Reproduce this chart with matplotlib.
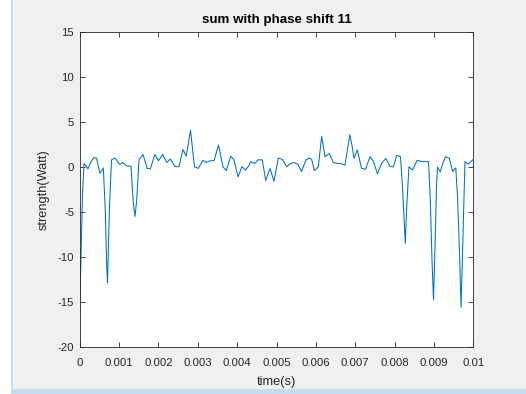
import matplotlib
matplotlib.use("Agg")
import matplotlib.pyplot as plt
from matplotlib.patches import Rectangle
from matplotlib.ticker import FixedLocator, FixedFormatter

plt.rcParams['font.family'] = ['Liberation Sans', 'DejaVu Sans']

# summed signal: time in milliseconds, strength in watts
time_ms = [0.000, 0.071, 0.109, 0.211, 0.287, 0.363, 0.427, 0.516, 0.600, 0.650,
           0.686, 0.706, 0.757, 0.808, 0.897, 1.011, 1.100, 1.202, 1.303, 1.362,
           1.405, 1.448, 1.507, 1.608, 1.715, 1.794, 1.908, 2.002, 2.109, 2.213,
           2.299, 2.421, 2.523, 2.624, 2.706, 2.815, 2.917, 3.011, 3.133, 3.222,
           3.310, 3.412, 3.526, 3.641, 3.725, 3.836, 3.920, 4.022, 4.123, 4.212,
           4.289, 4.345, 4.446, 4.530, 4.639, 4.726, 4.835, 4.936, 5.046, 5.147,
           5.259, 5.361, 5.445, 5.546, 5.635, 5.750, 5.833, 5.894, 5.961, 6.062,
           6.148, 6.232, 6.341, 6.443, 6.545, 6.631, 6.740, 6.862, 6.918, 6.969,
           7.053, 7.160, 7.261, 7.376, 7.459, 7.566, 7.668, 7.777, 7.879, 7.967,
           8.054, 8.150, 8.201, 8.247, 8.272, 8.308, 8.366, 8.455, 8.575, 8.697,
           8.862, 8.905, 8.951, 8.989, 9.027, 9.065, 9.090, 9.161, 9.223, 9.294,
           9.388, 9.477, 9.555, 9.599, 9.650, 9.688, 9.721, 9.764, 9.789, 9.873,
           9.962, 10.000]
strength = [-16.0, -3.0, 0.4, -0.2, 0.6, 1.05, 1.0, -0.7, -0.1, -4.8,
            -11.0, -12.9, -4.4, 0.8, 1.0, 0.3, 0.5, 0.1, 0.1, -4.0,
            -5.5, -3.7, 0.8, 1.4, -0.15, -0.2, 1.4, 0.7, 1.4, 0.5,
            0.9, 0.05, 0.05, 1.95, 1.2, 4.1, 0.03, -0.15, 0.75, 0.5,
            0.7, 0.7, 2.45, 0.03, -0.4, 1.2, 0.8, -1.1, 0.05, -0.35,
            0.1, 0.6, 0.4, 0.8, 0.8, -1.5, -0.15, -1.6, 1.0, 0.85,
            0.03, 0.4, 0.5, 0.3, -0.5, 0.8, 1.0, 0.85, -0.4, 0.03,
            3.4, 1.15, 1.5, 0.5, 0.4, 0.4, 0.2, 3.6, 2.4, 1.0,
            1.9, -0.15, -0.25, 1.15, 0.65, -0.75, 0.4, 0.95, 0.1, 0.0,
            1.3, 1.15, -2.2, -6.3, -8.5, -4.4, 0.03, -0.33, 0.75, 0.6,
            0.6, -3.3, -10.4, -14.8, -8.9, -2.2, 0.0, -0.55, 0.4, 1.15,
            1.0, -0.5, -0.1, -3.3, -9.6, -15.6, -10.5, -3.3, 0.6, 0.33,
            0.7, 0.85]

x_ticks = [0, 0.001, 0.002, 0.003, 0.004, 0.005, 0.006, 0.007, 0.008, 0.009, 0.01]
x_tick_labels = ['0', '0.001', '0.002', '0.003', '0.004', '0.005', '0.006',
                 '0.007', '0.008', '0.009', '0.01']
y_ticks = [-20, -15, -10, -5, 0, 5, 10, 15]
y_tick_labels = ['-20', '-15', '-10', '-5', '0', '5', '10', '15']

time_s = [t * 1e-3 for t in time_ms]

W, H = 526, 394
fig = plt.figure(figsize=(W / 100, H / 100), dpi=100, facecolor='#f0f0f0')

# window frame strips
fig.patches.append(Rectangle((0, 0), 11 / W, 1, transform=fig.transFigure,
                             facecolor='white', edgecolor='none', zorder=0))
fig.patches.append(Rectangle((11 / W, 0), 2 / W, 1, transform=fig.transFigure,
                             facecolor='#c9dbee', edgecolor='none', zorder=0))
fig.patches.append(Rectangle((11 / W, 0), 1 - 11 / W, 5 / H, transform=fig.transFigure,
                             facecolor='#c9dbee', edgecolor='none', zorder=0))

ax = fig.add_axes([79.7 / W, (H - 346.7) / H, (473.3 - 79.7) / W, (346.7 - 32.3) / H])
ax.set_facecolor('white')
ax.plot(time_s, strength, color='#0072BD', linewidth=0.75)

ax.set_xlim(0, 0.01)
ax.set_ylim(-20, 15)
ax.xaxis.set_major_locator(FixedLocator(x_ticks))
ax.xaxis.set_major_formatter(FixedFormatter(x_tick_labels))
ax.yaxis.set_major_locator(FixedLocator(y_ticks))
ax.yaxis.set_major_formatter(FixedFormatter(y_tick_labels))

axis_col = '#262626'
for s in ax.spines.values():
    s.set_color(axis_col)
    s.set_linewidth(0.6)
ax.tick_params(direction='in', length=3.5, width=0.6, colors=axis_col,
               labelsize=8.2, top=True, right=True)
ax.tick_params(axis='x', pad=8)
ax.tick_params(axis='y', pad=4)

ax.set_title('sum with phase shift 11', fontsize=9.6, fontweight='bold',
             color='black', pad=6.5)
ax.set_xlabel('time(s)', fontsize=9.3, color=axis_col, labelpad=6)
ax.set_ylabel('strength(Watt)', fontsize=9.2, color=axis_col, labelpad=6)

fig.savefig('out.png', dpi=100, facecolor=fig.get_facecolor())
